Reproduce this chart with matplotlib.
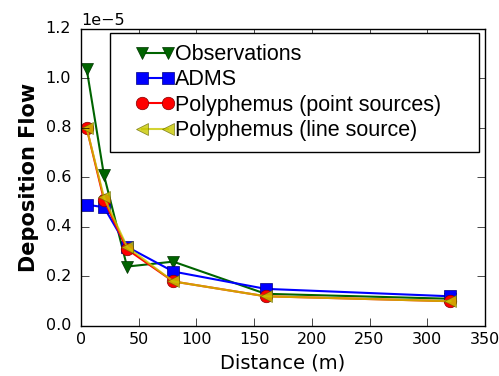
import numpy as np
import matplotlib as mpl
mpl.use('Agg')
import matplotlib.pyplot as plt
from matplotlib.lines import Line2D
from matplotlib.legend_handler import HandlerLine2D

plt.style.use('classic')

distance = [5, 20, 40, 80, 160, 320]
observations = [1.04e-5, 0.61e-5, 0.24e-5, 0.26e-5, 0.13e-5, 0.11e-5]
adms = [0.49e-5, 0.48e-5, 0.32e-5, 0.22e-5, 0.15e-5, 0.12e-5]
poly_point = [0.80e-5, 0.51e-5, 0.31e-5, 0.18e-5, 0.12e-5, 0.10e-5]
poly_line = [0.80e-5, 0.52e-5, 0.32e-5, 0.18e-5, 0.12e-5, 0.10e-5]
labels = ['Observations', 'ADMS', 'Polyphemus (point sources)', 'Polyphemus (line source)']

fig = plt.figure(figsize=(4.99, 3.76), dpi=100, facecolor='white')
ax = fig.add_axes([0.162, 0.133, 0.81, 0.79])

ms = 9
ax.plot(distance, observations, 'v-', color='#006400', mec='#003300', ms=ms, lw=1.5, label=labels[0])
ax.plot(distance, adms, 's-', color='#0000ff', mec='#000080', ms=ms, lw=1.5, label=labels[1])
ax.plot(distance, poly_point, 'o-', color='#ff0000', mec='#800000', ms=ms, lw=1.5, label=labels[2])
ax.plot(distance, poly_line, '<-', color='#c8c800', mec='#666600', ms=ms, lw=1.5, alpha=0.8, label=labels[3])

ax.set_xlim(0, 350)
ax.set_ylim(0, 1.2e-5)
ax.set_xticks(np.arange(0, 351, 50))
ax.set_yticks(np.arange(0, 1.21e-5, 0.2e-5))
ax.ticklabel_format(axis='y', style='sci', scilimits=(-3, 3))
ax.tick_params(labelsize=11.5, direction='in', length=6)
ax.tick_params(axis='y', pad=7)
ax.yaxis.get_offset_text().set_fontsize(11.5)

ax.set_xlabel('Distance (m)', fontsize=14)
ax.set_ylabel('Deposition Flow', fontsize=15, fontweight='bold')

# legend box spans most of the axes width, handles indented
leg = ax.legend(loc='upper left', bbox_to_anchor=(0.072, 0.0, 0.913, 0.985), mode='expand',
                prop={'family': 'Liberation Sans', 'size': 15.5},
                handlelength=2.5, handletextpad=0.0, labelspacing=0.2,
                borderaxespad=0.0, borderpad=0.5, numpoints=2, fancybox=False,
                handler_map={Line2D: HandlerLine2D(numpoints=2, xpad=0.7)})
leg.get_frame().set_edgecolor('black')

fig.savefig('out.png', dpi=100, facecolor='white')
